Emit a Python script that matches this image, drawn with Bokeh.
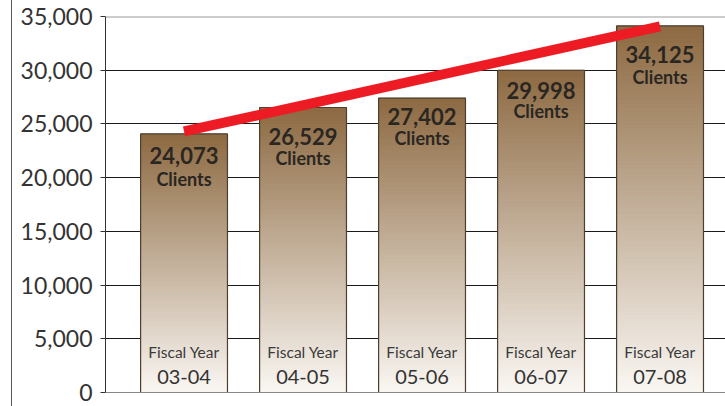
from bokeh.plotting import figure
from bokeh.models import Range1d, FixedTicker, Span, NumeralTickFormatter, ColumnDataSource, Spacer, Div
from bokeh.layouts import row
from bokeh.core.properties import value
from bokeh.embed import file_html
from bokeh.resources import INLINE

# ---- data ----
fiscal_years = ["03-04", "04-05", "05-06", "06-07", "07-08"]
clients = [24073, 26529, 27402, 29998, 34125]
trend_x = [0, 4]
trend_y = [24300, 34080]
y_ticks = [0, 5000, 10000, 15000, 20000, 25000, 30000, 35000]

# ---- style ----
label_drop_num = [22, 29, 18, 20, 29]
label_drop_txt = [45, 50, 40, 41, 51]
FONT = "Lato"
top_rgb = (0x8d, 0x6a, 0x42)
bot_rgb = (0xfa, 0xf7, 0xf3)
BAR_W = 0.73
N = 90

p = figure(width=713, height=406, output_backend="svg", toolbar_location=None,
           x_range=Range1d(-0.66, 4.55), y_range=Range1d(0, 35000),
           min_border_left=93, min_border_top=16, min_border_bottom=14, min_border_right=0,
           margin=0)
p.outline_line_color = None
p.background_fill_color = "white"

# axes
p.yaxis.ticker = FixedTicker(ticks=y_ticks)
p.yaxis.formatter = NumeralTickFormatter(format="0,0")
p.yaxis.major_label_text_font = FONT
p.yaxis.major_label_text_font_size = "23px"
p.yaxis.major_label_text_color = "#333333"
p.yaxis.major_tick_out = 5
p.yaxis.major_tick_in = 0
p.yaxis.minor_tick_line_color = None
p.yaxis.axis_line_color = "#333333"
p.yaxis.major_tick_line_color = "#333333"
p.yaxis.major_label_standoff = 8

p.xaxis.ticker = FixedTicker(ticks=[])
p.xaxis.axis_line_color = "#888888"
p.xaxis.minor_tick_line_color = None
p.xaxis.major_tick_line_color = None

p.xgrid.grid_line_color = None
p.ygrid.ticker = FixedTicker(ticks=y_ticks[1:-1])
p.ygrid.grid_line_color = "#1a1a1a"
p.ygrid.grid_line_width = 1.2

p.add_layout(Span(location=y_ticks[-1], dimension="width", line_color="#9a9a9a", line_width=2))

# gradient bars
L, R, B, T, C = [], [], [], [], []
for i, v in enumerate(clients):
    for k in range(N):
        f = (k + 0.5) / N
        col = tuple(int(round(b + (t - b) * f)) for b, t in zip(bot_rgb, top_rgb))
        L.append(i - BAR_W / 2)
        R.append(i + BAR_W / 2)
        B.append(v * k / N)
        T.append(min(v, v * (k + 1.3) / N))
        C.append("#%02x%02x%02x" % col)
p.quad(left=L, right=R, bottom=B, top=T, fill_color=C, line_color=C, line_width=0.5)

xs = list(range(len(clients)))
p.vbar(x=xs, top=clients, width=BAR_W, bottom=0, fill_color=None, line_color="#4d3f30", line_width=1.2)

# trend line
p.line(trend_x, trend_y, line_width=10, line_color="#ed1c24", line_cap="butt")

# labels
src = ColumnDataSource(dict(x=xs, y=clients,
                            num=[f"{v:,}" for v in clients],
                            txt=["Clients"] * len(clients),
                            dn=label_drop_num, dt=label_drop_txt,
                            fy=["Fiscal Year"] * len(clients),
                            yr=fiscal_years, zero=[0] * len(clients)))
p.text(x="x", y="y", text="num", y_offset="dn", source=src, text_align="center",
       text_baseline="alphabetic", text_font=value(FONT), text_font_style="bold",
       text_font_size="22px", text_color="#2a2622")
p.text(x="x", y="y", text="txt", y_offset="dt", source=src, text_align="center",
       text_baseline="alphabetic", text_font=value(FONT), text_font_style="bold",
       text_font_size="18px", text_color="#2a2622")
p.text(x="x", y="zero", text="fy", y_offset=-41, source=src, text_align="center",
       text_baseline="alphabetic", text_font=value(FONT),
       text_font_size="15.5px", text_color="#3a3a3a")
p.text(x="x", y="zero", text="yr", y_offset=-16, source=src, text_align="center",
       text_baseline="alphabetic", text_font=value(FONT),
       text_font_size="20px", text_color="#333333")

edge = Div(text="", width=1, height=406, margin=0, styles={"background-color": "#555555"})
layout = row(Spacer(width=11, height=406, margin=0), edge, p, spacing=0, margin=0)

open("out.html", "w").write(file_html(layout, INLINE))
